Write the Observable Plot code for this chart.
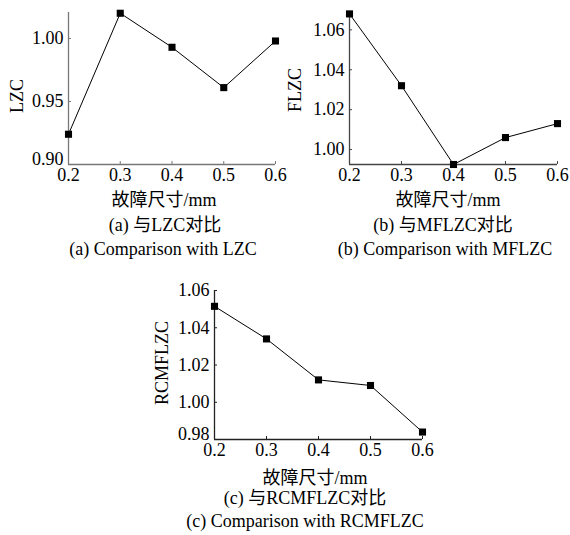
<!DOCTYPE html>
<html>
<head>
<meta charset="utf-8">
<script src="https://cdn.jsdelivr.net/npm/d3@7"></script>
<script src="https://cdn.jsdelivr.net/npm/@observablehq/plot@0.6"></script>
<style>
  body { margin: 0; background: #fff; }
  #root { position: relative; width: 570px; height: 535px; overflow: hidden; font-family: 'Liberation Serif', 'Noto Sans CJK SC', serif; color: #000; }
  .panel { position: absolute; }
  .t { position: absolute; font-size: 18px; white-space: nowrap; transform: translate(-50%, -50%); line-height: 1; }
  .ylab { transform: translate(-50%, -50%) rotate(-90deg); }
</style>
</head>
<body>
<div id="root"></div>
<script>
const sizes = [0.2, 0.3, 0.4, 0.5, 0.6];
const lzc = [0.924, 1.020, 0.993, 0.961, 0.998];
const mflzc = [1.068, 1.032, 0.9925, 1.006, 1.013];
const rcmflzc = [1.0515, 1.034, 1.012, 1.009, 0.984];
const lzcTicks = [0.90, 0.95, 1.00];
const mflzcTicks = [1.00, 1.02, 1.04, 1.06];
const rcmTicks = [0.98, 1.00, 1.02, 1.04, 1.06];
const xLabel = "故障尺寸/mm";
const FONT = "'Liberation Serif', 'Noto Sans CJK SC', serif";

const panels = [
  {values: lzc, ticks: lzcTicks, domain: [0.90, 1.0206], left: 0, top: 0, width: 285, height: 200,
   mL: 68, mT: 12, mR: 10, mB: 36, axisColor: "#777", ylabel: "LZC", ylx: 17, yly: 96,
   xlx: 164, xly: 200, cap1: "(a) 与LZC对比", c1x: 165, c1y: 225, cap2: "(a) Comparison with LZC", c2x: 163, c2y: 249},
  {values: mflzc, ticks: mflzcTicks, domain: [0.9925, 1.0687], left: 280, top: 0, width: 290, height: 200,
   mL: 69, mT: 12, mR: 13, mB: 36, axisColor: "#444", ylabel: "FLZC", ylx: 295, yly: 90,
   xlx: 448, xly: 200, cap1: "(b) 与MFLZC对比", c1x: 443, c1y: 225, cap2: "(b) Comparison with MFLZC", c2x: 445, c2y: 249},
  {values: rcmflzc, ticks: rcmTicks, domain: [0.98, 1.06], left: 140, top: 270, width: 292, height: 206,
   mL: 74, mT: 20, mR: 10, mB: 37, axisColor: "#222", ylabel: "RCMFLZC", ylx: 162, yly: 363,
   xlx: 315, xly: 478, cap1: "(c) 与RCMFLZC对比", c1x: 305, c1y: 498, cap2: "(c) Comparison with RCMFLZC", c2x: 305, c2y: 521}
];

const root = document.getElementById("root");

function addText(txt, x, y, cls) {
  const d = document.createElement("div");
  d.className = "t" + (cls ? " " + cls : "");
  d.textContent = txt;
  d.style.left = x + "px";
  d.style.top = y + "px";
  root.appendChild(d);
}

for (const p of panels) {
  const data = sizes.map((s, i) => ({x: s, y: p.values[i]}));
  const bottomTick = p.ticks.filter(t => Math.abs(t - p.domain[0]) < 1e-9);
  const otherTicks = p.ticks.filter(t => Math.abs(t - p.domain[0]) >= 1e-9);
  const chart = Plot.plot({
    width: p.width,
    height: p.height,
    marginLeft: p.mL,
    marginTop: p.mT,
    marginRight: p.mR,
    marginBottom: p.mB,
    style: {fontFamily: FONT, fontSize: "18px", background: "transparent", overflow: "visible"},
    x: {domain: [0.2, 0.6]},
    y: {domain: p.domain},
    marks: [
      Plot.axisX(sizes, {tickSize: 0, tickPadding: 4, tickFormat: d3.format(".1f"), label: null, fontSize: 18, fontFamily: FONT}),
      Plot.axisX(sizes, {tickSize: -3, fill: "none", stroke: p.axisColor}),
      Plot.axisY(otherTicks, {tickSize: 0, tickPadding: 5, tickFormat: d3.format(".2f"), label: null, fontSize: 18, fontFamily: FONT}),
      bottomTick.length ? Plot.axisY(bottomTick, {tickSize: 0, tickPadding: 5, dy: -5, tickFormat: d3.format(".2f"), label: null, fontSize: 18, fontFamily: FONT}) : null,
      Plot.axisY(p.ticks, {tickSize: -3, fill: "none", stroke: p.axisColor}),
      Plot.ruleX([0.2], {stroke: p.axisColor, strokeWidth: 1.3}),
      Plot.ruleY([p.domain[0]], {stroke: p.axisColor, strokeWidth: 1.3}),
      Plot.line(data, {x: "x", y: "y", stroke: "#000", strokeWidth: 1}),
      Plot.dot(data, {x: "x", y: "y", symbol: "square", r: 4, fill: "#000", stroke: "none"})
    ]
  });
  const wrap = document.createElement("div");
  wrap.className = "panel";
  wrap.style.left = p.left + "px";
  wrap.style.top = p.top + "px";
  wrap.appendChild(chart);
  root.appendChild(wrap);
  addText(p.ylabel, p.ylx, p.yly, "ylab");
  addText(xLabel, p.xlx, p.xly);
  addText(p.cap1, p.c1x, p.c1y);
  addText(p.cap2, p.c2x, p.c2y);
}
</script>
</body>
</html>
